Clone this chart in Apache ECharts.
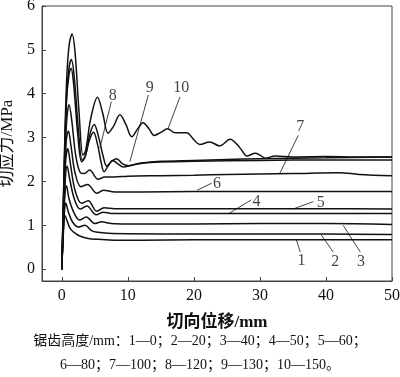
<!DOCTYPE html>
<html>
<head>
<meta charset="utf-8">
<script src="https://cdn.jsdelivr.net/npm/echarts@6/dist/echarts.min.js"></script>
<style>html,body{margin:0;padding:0;background:#fff}#c{width:400px;height:377px}</style>
</head>
<body>
<div id="c"></div>
<script>
// ---- data (x: 切向位移/mm, y: 切应力/MPa) ----
var xTicks = [0, 10, 20, 30, 40, 50];
var yTicks = [0, 1, 2, 3, 4, 5, 6];
var curve1 = [[0,0],[0.25,0.85],[0.5,1.22],[0.8,1.1],[1.3,0.92],[2.2,0.8],[3.0,0.74],[4.0,0.7],[5.5,0.68],[8,0.66],[12,0.66],[20,0.67],[30,0.67],[40,0.67],[50,0.67]];
var curve2 = [[0,0],[0.25,1.0],[0.45,1.4],[0.6,1.5],[1.0,1.3],[1.6,1.08],[2.5,0.96],[3.5,1.0],[4.5,0.88],[5.5,0.84],[7,0.82],[10,0.81],[20,0.8],[30,0.8],[40,0.8],[50,0.79]];
var curve3 = [[0,0],[0.3,1.2],[0.5,1.75],[0.7,1.9],[1.1,1.6],[1.8,1.3],[2.7,1.12],[3.7,1.19],[5.0,1.04],[6.0,1.08],[7.5,1.04],[10,1.03],[20,1.03],[30,1.04],[40,1.04],[50,1.02]];
var curve4 = [[0,0],[0.3,1.3],[0.55,2.1],[0.8,2.35],[1.2,2.05],[1.9,1.6],[2.8,1.37],[3.8,1.44],[5.2,1.24],[6.3,1.3],[7.5,1.27],[10,1.27],[20,1.27],[30,1.27],[40,1.27],[50,1.27]];
var curve5 = [[0,0],[0.3,1.4],[0.6,2.5],[0.9,2.75],[1.3,2.4],[2.0,1.8],[3.0,1.5],[4.0,1.56],[5.3,1.32],[6.4,1.4],[8,1.38],[12,1.38],[20,1.38],[30,1.38],[40,1.38],[50,1.37]];
var curve6 = [[0,0],[0.3,1.5],[0.65,2.9],[1.0,3.15],[1.4,2.8],[2.0,2.2],[2.9,1.88],[3.9,1.93],[5.3,1.73],[6.3,1.8],[8,1.76],[12,1.76],[20,1.77],[30,1.77],[40,1.77],[50,1.77]];
var curve7 = [[0,0],[0.3,1.6],[0.7,3.3],[1.1,3.75],[1.5,3.4],[2.1,2.6],[2.8,2.2],[3.4,2.18],[4.2,2.26],[5.5,2.05],[6.5,2.1],[8,2.1],[10,2.12],[15,2.13],[20,2.14],[25,2.16],[30,2.17],[35,2.18],[42,2.2],[45,2.16],[50,2.13]];
var curve8 = [[0,0],[0.3,1.8],[0.7,3.8],[1.1,4.45],[1.4,4.58],[1.8,4.2],[2.4,3.1],[3.0,2.45],[3.5,2.55],[4.2,2.95],[4.8,3.12],[5.4,2.85],[6.0,2.4],[6.4,2.22],[7.0,2.35],[7.7,2.48],[8.5,2.4],[9.3,2.33],[10.5,2.37],[12,2.42],[15,2.46],[20,2.48],[25,2.5],[30,2.52],[40,2.54],[50,2.56]];
var curve9 = [[0,0],[0.3,1.9],[0.7,3.9],[1.1,4.6],[1.45,4.78],[1.9,4.35],[2.5,3.2],[3.1,2.48],[3.6,2.6],[4.2,3.05],[4.9,3.3],[5.6,3.0],[6.3,2.55],[6.8,2.35],[7.5,2.45],[8.3,2.52],[9.2,2.4],[10.2,2.36],[11.5,2.4],[14,2.44],[20,2.46],[30,2.48],[40,2.49],[50,2.49]];
var curve10 = [[0,0],[0.3,2.0],[0.7,4.2],[1.1,5.1],[1.55,5.36],[2.0,4.95],[2.6,3.6],[3.2,2.6],[3.6,2.7],[4.4,3.45],[5.4,3.92],[6.2,3.55],[7.0,3.1],[7.8,3.25],[8.8,3.52],[9.7,3.3],[10.6,3.02],[11.5,3.2],[12.3,3.34],[13.2,3.2],[14.0,3.05],[15.0,3.12],[16.0,3.2],[17.2,3.11],[18.9,3.11],[20.0,2.95],[20.9,2.84],[22.4,2.9],[23.9,2.81],[25.5,2.96],[26.5,2.85],[27.3,2.7],[28.0,2.58],[29.3,2.64],[30.0,2.6],[30.8,2.53],[32.3,2.58],[35,2.56],[40,2.57],[45,2.56],[50,2.56]];
var curveNames = ['1','2','3','4','5','6','7','8','9','10'];
// curve labels: text, label position, leader start, leader end
var labelText = ['1','2','3','4','5','6','7','8','9','10'];
var labelPos = [[36.3,0.2],[41.4,0.17],[45.3,0.17],[29.5,1.53],[39.2,1.51],[23.5,1.94],[36.1,3.24],[7.7,3.95],[13.3,4.14],[18.1,4.14]];
var leaderFrom = [[36.1,0.39],[41.1,0.39],[45.2,0.39],[28.7,1.58],[38.1,1.54],[22.7,1.96],[35.8,3.05],[7.5,3.82],[13.1,3.97],[17.9,3.93]];
var leaderTo = [[35.5,0.68],[39.3,0.78],[42.6,1.0],[25.2,1.26],[35.0,1.37],[20.5,1.8],[33.0,2.18],[5.76,2.76],[10.3,2.45],[16.1,3.21]];
var xName = '切向位移/mm';
var yName = '切应力/MPa';
var caption1 = '锯齿高度/mm：1—0；2—20；3—40；4—50；5—60；';
var caption2 = '6—80；7—100；8—120；9—130；10—150。';

var curves = [curve1,curve2,curve3,curve4,curve5,curve6,curve7,curve8,curve9,curve10];
var FONT = '"Liberation Serif", "Noto Sans CJK SC", serif';
var chart = echarts.init(document.getElementById('c'), null, {renderer:'canvas'});

var series = curves.map(function (d, i) {
  return {
    name: curveNames[i], type: 'line', data: d, smooth: 0.35,
    showSymbol: false, symbol: 'none', silent: true,
    lineStyle: {color: '#111', width: 1.5}, z: 3
  };
});
var leaderData = leaderFrom.map(function (p, i) {
  return [{coord: p}, {coord: leaderTo[i]}];
});
series.push({
  type: 'scatter', silent: true, symbolSize: 1,
  itemStyle: {color: 'rgba(0,0,0,0)'},
  data: labelPos.map(function (p, i) { return {value: p, name: labelText[i]}; }),
  label: {show: true, position: 'inside', formatter: '{b}', color: '#111',
          fontFamily: FONT, fontSize: 16},
  markLine: {silent: true, symbol: 'none', animation: false,
    lineStyle: {color: '#111', width: 0.8, type: 'solid'},
    label: {show: false}, data: leaderData},
  z: 4
});

chart.setOption({
  animation: false,
  backgroundColor: '#fff',
  grid: {left: 42, right: 8, top: 6, bottom: 96, containLabel: false, outerBoundsMode: 'none',
         show: true, borderColor: '#444', borderWidth: 1, backgroundColor: 'transparent'},
  xAxis: {
    type: 'value', min: -3, max: 50,
    name: xName, nameLocation: 'middle', nameGap: 33,
    nameTextStyle: {fontFamily: FONT, fontSize: 17, fontWeight: 'bold', color: '#111'},
    axisLine: {show: true, onZero: false, lineStyle: {color: '#444', width: 1}},
    axisTick: {show: true, inside: true, length: 4, customValues: xTicks, lineStyle: {color: '#444'}},
    axisLabel: {customValues: xTicks, margin: 7, fontFamily: FONT, fontSize: 16, color: '#111'},
    splitLine: {show: false}
  },
  yAxis: {
    type: 'value', min: -0.27, max: 6,
    name: yName, nameLocation: 'middle', nameGap: 24, nameRotate: 90,
    nameTextStyle: {fontFamily: FONT, fontSize: 17, color: '#111'},
    axisLine: {show: true, onZero: false, lineStyle: {color: '#444', width: 1}},
    axisTick: {show: true, inside: true, length: 4, customValues: yTicks, lineStyle: {color: '#444'}},
    axisLabel: {customValues: yTicks, margin: 7, fontFamily: FONT, fontSize: 16, color: '#111'},
    splitLine: {show: false}
  },
  graphic: [
    {type: 'text', left: 'center', top: 334, style: {text: caption1, fontFamily: FONT, fontSize: 14, fill: '#111'}},
    {type: 'text', left: 'center', top: 358, style: {text: caption2, fontFamily: FONT, fontSize: 14, fill: '#111'}}
  ],
  series: series
});
</script>
</body>
</html>
